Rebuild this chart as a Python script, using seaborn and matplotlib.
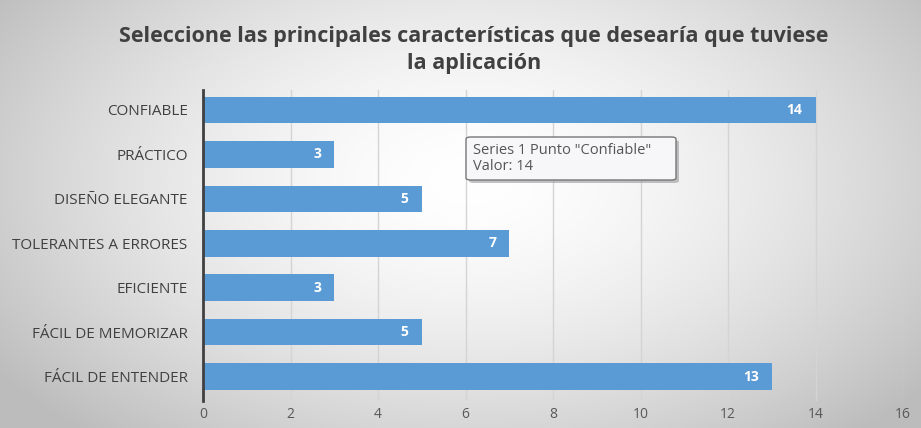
import numpy as np
import pandas as pd
import matplotlib
matplotlib.use("Agg")
import matplotlib.pyplot as plt
import seaborn as sns
from matplotlib.patches import FancyBboxPatch

categories = ["CONFIABLE", "PRÁCTICO", "DISEÑO ELEGANTE", "TOLERANTES A ERRORES",
              "EFICIENTE", "FÁCIL DE MEMORIZAR", "FÁCIL DE ENTENDER"]
values = [14, 3, 5, 7, 3, 5, 13]
x_ticks = [0, 2, 4, 6, 8, 10, 12, 14, 16]
title = "Seleccione las principales características que desearía que tuviese\nla aplicación"
tooltip = 'Series 1 Punto "Confiable"\nValor: 14'

sns.set_theme(style="white")
plt.rcParams["font.family"] = ["Open Sans", "DejaVu Sans"]

W, H = 921, 428
fig = plt.figure(figsize=(W / 100, H / 100), dpi=100)

# radial gradient background
bg = fig.add_axes([0, 0, 1, 1], zorder=-10)
yy, xx = np.mgrid[0:H, 0:W]
r = np.sqrt(((xx - 470) / 560.0) ** 2 + ((yy - 180) / 330.0) ** 2)
g = np.clip(1.0 - 0.25 * r ** 1.6, 0.74, 1.0)
img = np.dstack([g, g, g])
bg.imshow(img, aspect="auto", extent=[0, 1, 0, 1], origin="upper")
bg.axis("off")

ax = fig.add_axes([203 / W, 1 - 401 / H, 700 / W, 311 / H])
ax.patch.set_alpha(0)

df = pd.DataFrame({"cat": categories, "val": values})
sns.barplot(data=df, x="val", y="cat", orient="h", color="#5B9BD5",
            saturation=1, width=0.6, linewidth=0, ax=ax, zorder=3)

ax.set_xlim(0, 16)
ax.set_ylim(6.55, -0.45)
ax.set_xticks(x_ticks)
ax.set_xticklabels([str(t) for t in x_ticks], fontsize=10, color="#595959")
ax.tick_params(axis="x", length=0, pad=4)
ax.tick_params(axis="y", length=0, pad=11, labelsize=11, labelcolor="#404040")
ax.set_xlabel("")
ax.set_ylabel("")
ax.grid(axis="x", color="#d4d4d4", linewidth=1, zorder=0)
ax.set_axisbelow(True)
for s in ["top", "right", "bottom"]:
    ax.spines[s].set_visible(False)
ax.spines["left"].set_color("#404040")
ax.spines["left"].set_linewidth(2)
ax.spines["left"].set_zorder(5)

for i, v in enumerate(values):
    ax.text(v - 0.3, i, str(v), ha="right", va="center", color="white",
            fontsize=10, fontweight="bold", zorder=6)

fig.text(474 / W, 1 - 50 / H, title, ha="center", va="center", fontsize=15.5,
         fontweight="bold", color="#404040", linespacing=1.35)

# tooltip box
bx, by, bw, bh = 466 / W, 1 - 180 / H, 210 / W, 43 / H
shadow = FancyBboxPatch((bx + 3 / W, by - 3 / H), bw, bh,
                        boxstyle="round,pad=0,rounding_size=0.005",
                        transform=fig.transFigure, facecolor="#9a9a9a",
                        edgecolor="none", alpha=0.6, zorder=20)
box = FancyBboxPatch((bx, by), bw, bh,
                     boxstyle="round,pad=0,rounding_size=0.005",
                     transform=fig.transFigure, facecolor="#f7f7fa",
                     edgecolor="#767676", linewidth=1, zorder=21)
fig.patches.extend([shadow, box])
fig.text(bx + 7 / W, by + bh / 2, tooltip, ha="left", va="center",
         fontsize=10.5, color="#555555", zorder=22, linespacing=1.0)

fig.savefig("out.png", dpi=100)
